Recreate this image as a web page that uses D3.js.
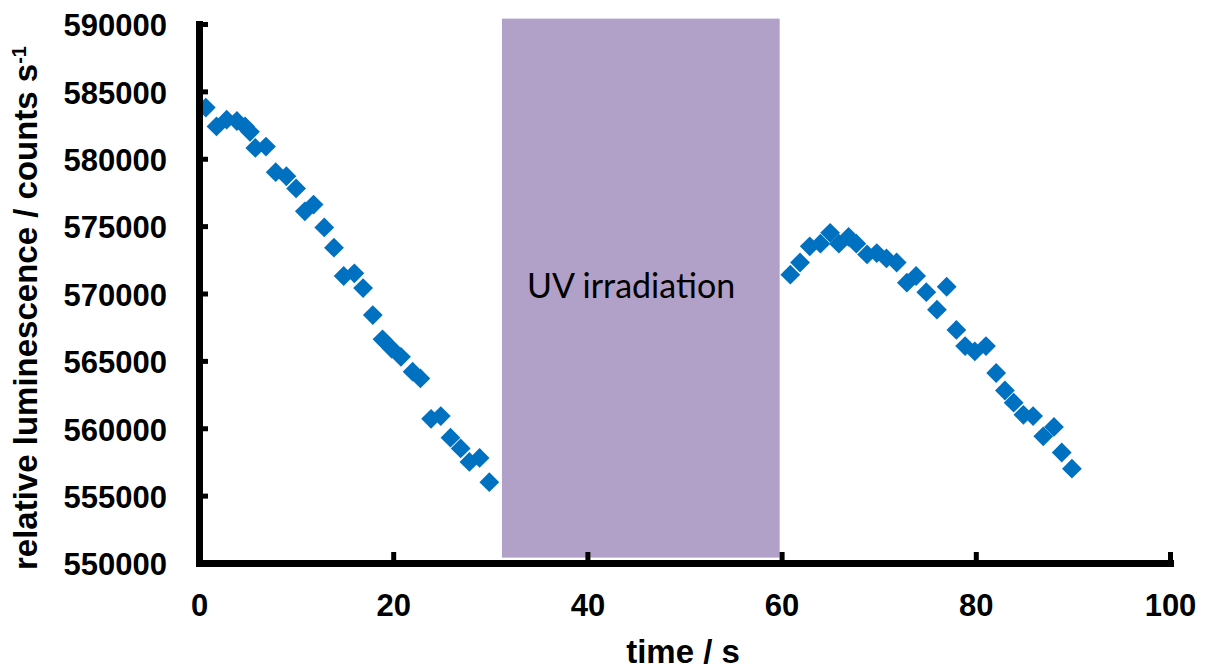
<!DOCTYPE html>
<html>
<head>
<meta charset="utf-8">
<script src="https://cdn.jsdelivr.net/npm/d3@7"></script>
<style>
  body { margin: 0; background: #fff; }
  svg { display: block; }
  .tick text { font-family: "Liberation Sans", Arial, sans-serif; font-weight: bold; font-size: 31px; fill: #000; }
  .axis-title { font-family: "Liberation Sans", Arial, sans-serif; font-weight: bold; font-size: 33px; fill: #000; }
  .uv-label { font-family: Lato, "Open Sans", sans-serif; font-size: 34px; fill: #000; }
</style>
</head>
<body>
<div id="chart"></div>
<script>
// luminescence before UV irradiation
var beforeTime = [0.7, 1.8, 2.85, 3.9, 4.75, 5.25, 5.8, 6.9, 7.9, 9.0, 10.0, 10.9, 11.8, 12.9, 13.9,
  14.9, 16.0, 16.9, 17.9, 18.9, 19.85, 20.8, 22.0, 22.8, 23.9, 24.9, 25.9, 26.95, 27.85, 28.9, 29.9];
var beforeCounts = [583800, 582400, 582900, 582800, 582400, 582000, 580800, 580900, 579000, 578700,
  577800, 576100, 576600, 574900, 573400, 571300, 571500, 570400, 568400, 566600, 565900, 565300,
  564200, 563700, 560700, 560900, 559300, 558500, 557500, 557800, 556000];

// luminescence after UV irradiation
var afterTime = [60.9, 61.9, 62.9, 64.0, 65.0, 65.9, 66.9, 67.7, 68.8, 69.8, 70.8, 71.85, 72.9, 73.85,
  74.9, 76.0, 77.0, 78.0, 78.9, 79.9, 81.05, 82.1, 83.0, 83.9, 84.9, 85.9, 86.95, 88.05, 88.85, 89.9];
var afterCounts = [571400, 572300, 573500, 573700, 574500, 573700, 574200, 573700, 572900, 573000,
  572600, 572300, 570800, 571300, 570100, 568800, 570500, 567300, 566100, 565700, 566100, 564100,
  562800, 561900, 561000, 560900, 559400, 560100, 558200, 557000];

var uvWindow = [31.2, 59.8];
var uvText = "UV irradiation";

var xTicks = [0, 20, 40, 60, 80, 100];
var yTicks = [550000, 555000, 560000, 565000, 570000, 575000, 580000, 585000, 590000];

var width = 1206,
    height = 670;

var points = beforeTime.map(function(t, i) { return {time: t, value: beforeCounts[i]}; })
  .concat(afterTime.map(function(t, i) { return {time: t, value: afterCounts[i]}; }));

var x = d3.scaleLinear().domain([0, 100]).range([199, 1170]),
    y = d3.scaleLinear().domain([550000, 590000]).range([563, 24]);

var svg = d3.select("#chart").append("svg")
    .attr("width", width)
    .attr("height", height);

// shaded irradiation window
svg.append("rect")
    .attr("x", x(uvWindow[0]))
    .attr("width", x(uvWindow[1]) - x(uvWindow[0]))
    .attr("y", y(590400))
    .attr("height", y(550400) - y(590400))
    .attr("fill", "#b1a0c7");

svg.append("text")
    .attr("class", "uv-label")
    .attr("x", x(44.5))
    .attr("y", y(569700))
    .attr("text-anchor", "middle")
    .text(uvText);

// diamonds
var diamond = d3.symbol().type(d3.symbolSquare).size(196);
svg.append("g")
  .selectAll("path")
  .data(points).enter()
  .append("path")
    .attr("d", diamond)
    .attr("transform", function(d) { return "translate(" + x(d.time) + "," + y(d.value) + ") rotate(45)"; })
    .attr("fill", "#0070c0");

// axes
var xAxis = svg.append("g")
    .attr("transform", "translate(0," + y(550000) + ")")
    .call(d3.axisBottom(x).tickValues(xTicks).tickSizeInner(-11).tickSizeOuter(0));
xAxis.selectAll(".tick text").attr("y", 53).attr("dy", null);

var yAxis = svg.append("g")
    .attr("transform", "translate(" + x(0) + ",0)")
    .call(d3.axisLeft(y).tickValues(yTicks).tickSizeInner(-9).tickSizeOuter(0).tickFormat(d3.format("d")));
yAxis.selectAll(".tick text").attr("x", -32).attr("dy", "0.38em");

svg.selectAll(".domain")
    .attr("stroke", "#000")
    .attr("stroke-width", 7)
    .attr("stroke-linecap", "square");
svg.selectAll(".tick line")
    .attr("stroke", "#000")
    .attr("stroke-width", 5);

svg.append("text")
    .attr("class", "axis-title")
    .attr("x", 683)
    .attr("y", 663)
    .attr("text-anchor", "middle")
    .text("time / s");

var yTitle = svg.append("text")
    .attr("class", "axis-title")
    .attr("transform", "translate(37,308) rotate(-90)")
    .attr("text-anchor", "middle");
yTitle.append("tspan").text("relative luminescence / counts s");
yTitle.append("tspan")
    .attr("baseline-shift", "super")
    .attr("font-size", "20px")
    .text("-1");
</script>
</body>
</html>
